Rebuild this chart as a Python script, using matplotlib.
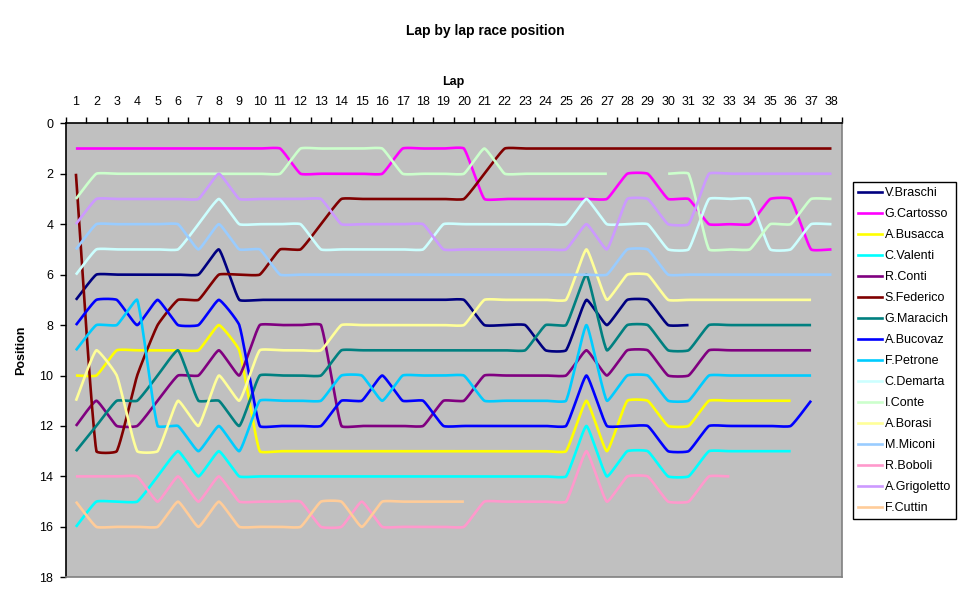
import matplotlib
matplotlib.use("Agg")
import matplotlib.pyplot as plt
from matplotlib.lines import Line2D
import numpy as np

N = None
laps = list(range(1, 39))

drivers = ["V.Braschi", "G.Cartosso", "A.Busacca", "C.Valenti", "R.Conti",
           "S.Federico", "G.Maracich", "A.Bucovaz", "F.Petrone", "C.Demarta",
           "I.Conte", "A.Borasi", "M.Miconi", "R.Boboli", "A.Grigoletto", "F.Cuttin"]

colors = ["#000080", "#FF00FF", "#FFFF00", "#00FFFF", "#800080",
          "#800000", "#008080", "#0000FF", "#00CCFF", "#CCFFFF",
          "#CCFFCC", "#FFFF99", "#99CCFF", "#FF99CC", "#CC99FF", "#FFCC99"]

# positions per lap, None = no data
braschi = [7, 6, 6, 6, 6, 6, 6, 5, 7, 7, 7, 7, 7, 7, 7, 7, 7, 7, 7, 7,
           8, 8, 8, 9, 9, 7, 8, 7, 7, 8, 8, N, N, N, N, N, N, N]
cartosso = [1, 1, 1, 1, 1, 1, 1, 1, 1, 1, 1, 2, 2, 2, 2, 2, 1, 1, 1, 1,
            3, 3, 3, 3, 3, 3, 3, 2, 2, 3, 3, 4, 4, 4, 3, 3, 5, 5]
busacca = [10, 10, 9, 9, 9, 9, 9, 8, 9, 13, 13, 13, 13, 13, 13, 13, 13, 13, 13, 13,
           13, 13, 13, 13, 13, 11, 13, 11, 11, 12, 12, 11, 11, 11, 11, 11, N, N]
valenti = [16, 15, 15, 15, 14, 13, 14, 13, 14, 14, 14, 14, 14, 14, 14, 14, 14, 14, 14, 14,
           14, 14, 14, 14, 14, 12, 14, 13, 13, 14, 14, 13, 13, 13, 13, 13, N, N]
conti_r = [12, 11, 12, 12, 11, 10, 10, 9, 10, 8, 8, 8, 8, 12, 12, 12, 12, 12, 11, 11,
           10, 10, 10, 10, 10, 9, 10, 9, 9, 10, 10, 9, 9, 9, 9, 9, 9, N]
federico = [2, 13, 13, 10, 8, 7, 7, 6, 6, 6, 5, 5, 4, 3, 3, 3, 3, 3, 3, 3,
            2, 1, 1, 1, 1, 1, 1, 1, 1, 1, 1, 1, 1, 1, 1, 1, 1, 1]
maracich = [13, 12, 11, 11, 10, 9, 11, 11, 12, 10, 10, 10, 10, 9, 9, 9, 9, 9, 9, 9,
            9, 9, 9, 8, 8, 6, 9, 8, 8, 9, 9, 8, 8, 8, 8, 8, 8, N]
bucovaz = [8, 7, 7, 8, 7, 8, 8, 7, 8, 12, 12, 12, 12, 11, 11, 10, 11, 11, 12, 12,
           12, 12, 12, 12, 12, 10, 12, 12, 12, 13, 13, 12, 12, 12, 12, 12, 11, N]
petrone = [9, 8, 8, 7, 12, 12, 13, 12, 13, 11, 11, 11, 11, 10, 10, 11, 10, 10, 10, 10,
           11, 11, 11, 11, 11, 8, 11, 10, 10, 11, 11, 10, 10, 10, 10, 10, 10, N]
demarta = [6, 5, 5, 5, 5, 5, 4, 3, 4, 4, 4, 4, 5, 5, 5, 5, 5, 5, 4, 4,
           4, 4, 4, 4, 4, 3, 4, 4, 4, 5, 5, 3, 3, 3, 5, 5, 4, 4]
conte_i = [3, 2, 2, 2, 2, 2, 2, 2, 2, 2, 2, 1, 1, 1, 1, 1, 2, 2, 2, 2,
           1, 2, 2, 2, 2, 2, 2, N, N, 2, 2, 5, 5, 5, 4, 4, 3, 3]
borasi = [11, 9, 10, 13, 13, 11, 12, 10, 11, 9, 9, 9, 9, 8, 8, 8, 8, 8, 8, 8,
          7, 7, 7, 7, 7, 5, 7, 6, 6, 7, 7, 7, 7, 7, 7, 7, 7, N]
miconi = [5, 4, 4, 4, 4, 4, 5, 4, 5, 5, 6, 6, 6, 6, 6, 6, 6, 6, 6, 6,
          6, 6, 6, 6, 6, 6, 6, 5, 5, 6, 6, 6, 6, 6, 6, 6, 6, 6]
boboli = [14, 14, 14, 14, 15, 14, 15, 14, 15, 15, 15, 15, 16, 16, 15, 16, 16, 16, 16, 16,
          15, 15, 15, 15, 15, 13, 15, 14, 14, 15, 15, 14, 14, N, N, N, N, N]
grigoletto = [4, 3, 3, 3, 3, 3, 3, 2, 3, 3, 3, 3, 3, 4, 4, 4, 4, 4, 5, 5,
              5, 5, 5, 5, 5, 4, 5, 3, 3, 4, 4, 2, 2, 2, 2, 2, 2, 2]
cuttin = [15, 16, 16, 16, 16, 15, 16, 15, 16, 16, 16, 16, 15, 15, 16, 15, 15, 15, 15, 15,
          N, N, N, N, N, N, N, N, N, N, N, N, N, N, N, N, N, N]

series = [braschi, cartosso, busacca, valenti, conti_r, federico, maracich, bucovaz,
          petrone, demarta, conte_i, borasi, miconi, boboli, grigoletto, cuttin]

# pixel size of one lap / one position, so the smoothing works in screen space
SX, SY = 20.42, 25.22
TENSION = 0.4  # Excel's smoothing only rounds the corners a little


def smooth(xs, ys, steps=24):
    P = np.column_stack([np.asarray(xs, float) * SX, np.asarray(ys, float) * SY])
    n = len(P)
    if n < 2:
        return P[:, 0] / SX, P[:, 1] / SY
    out = [P[0]]
    for i in range(n - 1):
        p0 = P[i - 1] if i > 0 else P[i]
        p1, p2 = P[i], P[i + 1]
        p3 = P[i + 2] if i + 2 < n else P[i + 1]
        d01 = np.hypot(*(p1 - p0))
        d12 = np.hypot(*(p2 - p1))
        d23 = np.hypot(*(p3 - p2))
        c1 = p1 + (p2 - p0) * (d12 / (d01 + d12)) / 3 * TENSION if d01 + d12 > 0 else p1
        c2 = p2 - (p3 - p1) * (d12 / (d12 + d23)) / 3 * TENSION if d12 + d23 > 0 else p2
        t = np.linspace(0, 1, steps)[1:, None]
        b = ((1 - t) ** 3) * p1 + 3 * ((1 - t) ** 2) * t * c1 + 3 * (1 - t) * t * t * c2 + t ** 3 * p2
        out.extend(b)
    out = np.array(out)
    return out[:, 0] / SX, out[:, 1] / SY


def runs(vals):
    # split a series at the missing laps
    cur = []
    for lap, v in zip(laps, vals):
        if v is None:
            if cur:
                yield cur
            cur = []
        else:
            cur.append((lap, v))
    if cur:
        yield cur


plt.rcParams["font.family"] = ["Liberation Sans", "DejaVu Sans"]

fig = plt.figure(figsize=(9.7, 6.03), dpi=100)
ax = fig.add_axes([65.7 / 970, 1 - 577.3 / 603, 776 / 970, 454 / 603])
ax.set_facecolor("#C0C0C0")

lw = 1.9
for vals, col in zip(series, colors):
    for seg in runs(vals):
        x, y = zip(*seg)
        sx, sy = smooth(x, y)
        ax.plot(sx, sy, color=col, lw=lw, solid_capstyle="butt", solid_joinstyle="round")

ax.set_xlim(0.5, 38.5)
ax.set_ylim(18, 0)

ax.xaxis.tick_top()
ax.xaxis.set_label_position("top")
ax.set_xticks(laps)
ax.set_xticks(np.arange(0.5, 39, 1), minor=True)
ax.tick_params(axis="x", which="major", length=0, pad=11, labelsize=9)
ax.tick_params(axis="x", which="minor", length=4, direction="out", width=1)
ax.set_yticks(range(0, 19, 2))
ax.tick_params(axis="y", length=4, direction="out", width=1, pad=5, labelsize=9)

for s in ["top", "left"]:
    ax.spines[s].set_color("black")
    ax.spines[s].set_linewidth(1.2)
for s in ["right", "bottom"]:
    ax.spines[s].set_color("#808080")
    ax.spines[s].set_linewidth(1.2)

ax.set_xlabel("Lap", fontsize=9, fontweight="bold", labelpad=8)
ax.set_ylabel("Position", fontsize=9, fontweight="bold", labelpad=9)
fig.suptitle("Lap by lap race position", fontsize=10, fontweight="bold", y=1 - 31 / 603, va="center")

handles = [Line2D([0], [0], color=c, lw=lw) for c in colors]
leg = fig.legend(handles, drivers, loc="upper left", bbox_to_anchor=(853 / 970, 1 - 182 / 603),
                 fontsize=9, frameon=True, fancybox=False, edgecolor="black", framealpha=1,
                 borderpad=0.4, labelspacing=0.72, handlelength=1.9, handletextpad=0.25,
                 borderaxespad=0)
leg.get_frame().set_linewidth(1.0)

fig.savefig("out.png", dpi=100)
